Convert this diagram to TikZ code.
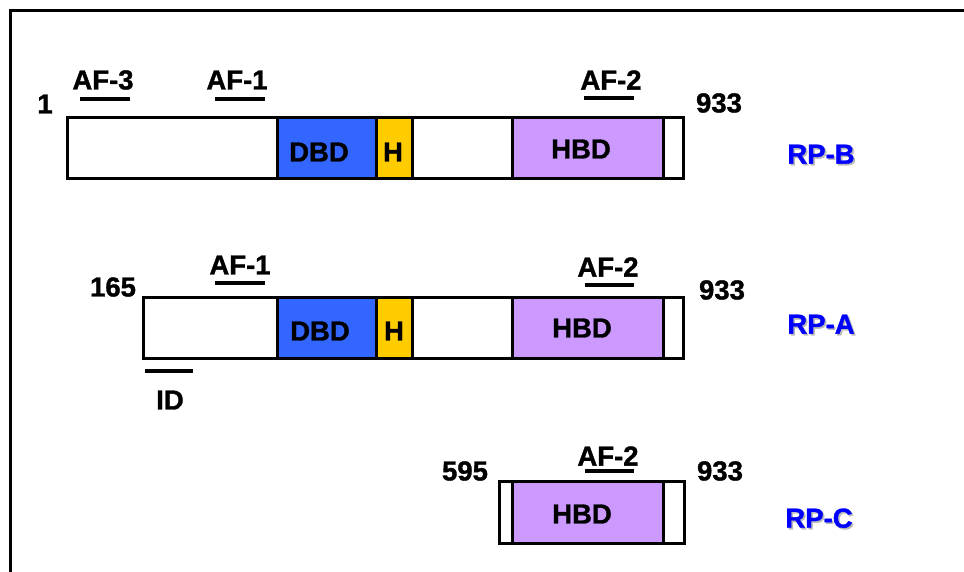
\documentclass[tikz,border=0pt]{standalone}
\usepackage{fontspec}
\setmainfont{Liberation Sans}[BoldFeatures={FakeBold=1.2}]
\definecolor{dbdblue}{RGB}{51,102,255}
\definecolor{hyellow}{RGB}{255,204,0}
\definecolor{hbdpurple}{RGB}{204,153,255}
\definecolor{rpblue}{RGB}{0,0,255}
\definecolor{shadowgray}{RGB}{185,185,185}
% blue protein name with a soft grey drop shadow
\newcommand{\shadowname}[1]{%
  \makebox[0pt][l]{\hspace{1.6pt}\raisebox{-1.6pt}{\textcolor{shadowgray}{#1}}}%
  \textcolor{rpblue}{#1}}
\begin{document}
\begin{tikzpicture}[x=1pt,y=-1pt,
  lbl/.style={font=\fontsize{27.5}{30}\selectfont\bfseries, inner sep=0pt, outer sep=0pt},
  seg/.style={draw=black, line width=3pt, inner sep=0pt, outer sep=0pt, minimum height=61pt},
  plain/.style={seg, fill=white},
  dbd/.style={seg, fill=dbdblue},
  hinge/.style={seg, fill=hyellow},
  hbd/.style={seg, fill=hbdpurple},
  afbar/.style={line width=4pt},
  rpname/.style={lbl}]
\useasboundingbox (0,0) rectangle (964,572);
\fill[white] (0,0) rectangle (964,572);
% frame
\draw[line width=3pt] (10,572) -- (10,11) -- (964,11);

% ---------- RP-B (1-933) ----------
\node[plain, minimum width=210pt] (bn1) at (172,148.5) {};
\node[dbd, minimum width=99pt] (bdbd) at (326.5,148.5) {};
\node[hinge, minimum width=36pt] (bh) at (394,148.5) {};
\node[plain, minimum width=100pt] (bn2) at (462,148.5) {};
\node[hbd, minimum width=151pt] (bhbd) at (587.5,148.5) {};
\node[plain, minimum width=20pt] (bn3) at (673,148.5) {};
\node[lbl] (bdbdt) at (319,152) {DBD};
\node[lbl] (bht) at (393,152) {H};
\node[lbl] (bhbdt) at (581,149) {HBD};
\node[lbl] (bstart) at (45,104) {1};
\node[lbl] (bend) at (719,103) {933};
\node[lbl] (baf3) at (103,80) {AF-3};
\node[lbl] (baf1) at (237,80) {AF-1};
\node[lbl] (baf2) at (611,80) {AF-2};
\draw[afbar] (80,99) -- (130,99);
\draw[afbar] (215,99) -- (265,99);
\draw[afbar] (584,98) -- (634,98);
\node[rpname] (bname) at (821,155) {\shadowname{RP-B}};

% ---------- RP-A (165-933) ----------
\node[plain, minimum width=134pt] (an1) at (210,327.5) {};
\node[dbd, minimum width=99pt] (adbd) at (326.5,327.5) {};
\node[hinge, minimum width=36pt] (ah) at (394,327.5) {};
\node[plain, minimum width=100pt] (an2) at (462,327.5) {};
\node[hbd, minimum width=151pt] (ahbd) at (587.5,327.5) {};
\node[plain, minimum width=20pt] (an3) at (673,327.5) {};
\node[lbl] (adbdt) at (320,331) {DBD};
\node[lbl] (aht) at (394,331) {H};
\node[lbl] (ahbdt) at (582,328) {HBD};
\node[lbl] (astart) at (113,287) {165};
\node[lbl] (aend) at (722,290) {933};
\node[lbl] (aaf1) at (240,265) {AF-1};
\node[lbl] (aaf2) at (608,267) {AF-2};
\node[lbl] (aid) at (170,400) {ID};
\draw[afbar] (215,283) -- (265,283);
\draw[afbar] (585,285) -- (634,285);
\draw[afbar] (145,371) -- (193,371);
\node[rpname] (aname) at (821,325) {\shadowname{RP-A}};

% ---------- RP-C (595-933) ----------
\node[plain, minimum width=13pt, minimum height=62pt] (cn1) at (505.5,512) {};
\node[hbd, minimum width=151pt, minimum height=62pt] (chbd) at (587.5,512) {};
\node[plain, minimum width=21pt, minimum height=62pt] (cn2) at (673.5,512) {};
\node[lbl] (chbdt) at (582,514) {HBD};
\node[lbl] (cstart) at (465,471) {595};
\node[lbl] (cend) at (720,471) {933};
\node[lbl] (caf2) at (608,456) {AF-2};
\draw[afbar] (585,471) -- (634,471);
\node[rpname] (cname) at (819,519) {\shadowname{RP-C}};
\end{tikzpicture}
\end{document}
